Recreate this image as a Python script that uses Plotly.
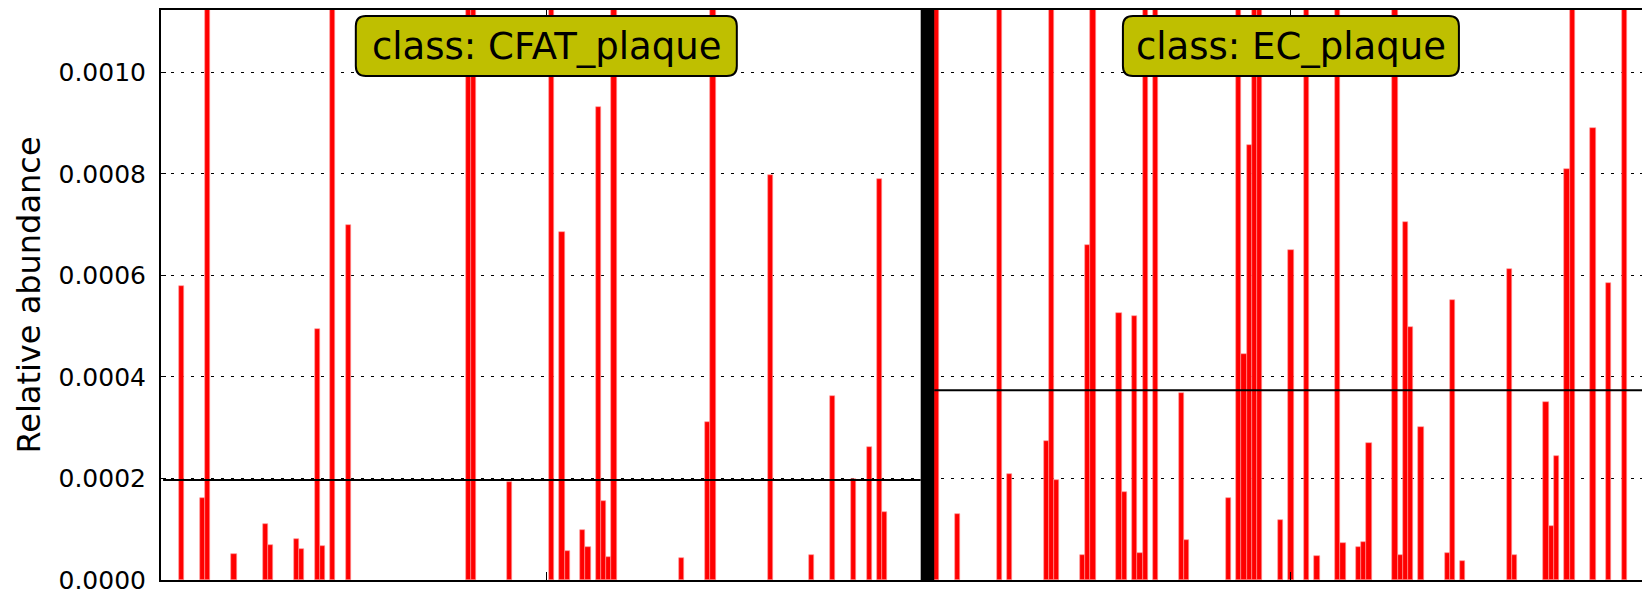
import plotly.graph_objects as go
import numpy as np

# ---- data ----
TALL = 0.003  # bars that run off the top of the axis (true height not readable)

class_names = ["CFAT_plaque", "EC_plaque"]
class_means = [0.000197, 0.000374]
class_sizes = [141, 137]

cfat_samples = [0, 4, 5, 10, 16, 17, 22, 23, 26, 27, 29, 32, 55, 56, 63, 71, 73, 74,
                77, 78, 80, 81, 82, 83, 96, 101, 102, 113, 121, 125, 129, 132, 134, 135]
cfat_values = [0.000579, 0.000162, TALL, 0.000051, 0.000111, 0.0000694, 0.0000805,
               0.0000613, 0.000495, 0.0000665, TALL, 0.000699, TALL, TALL, 0.000193,
               TALL, 0.000685, 0.0000569, 0.000099, 0.000065, 0.000931, 0.000155,
               0.0000458, TALL, 0.0000428, 0.000312, TALL, 0.000798, 0.0000487,
               0.000362, 0.000199, 0.000262, 0.00079, 0.000134]

ec_samples = [0, 4, 12, 14, 21, 22, 23, 28, 29, 30, 35, 36, 38, 39, 40, 42, 47, 48, 56,
              58, 59, 60, 61, 62, 66, 68, 71, 73, 77, 78, 81, 82, 83, 88, 89, 90, 91,
              93, 98, 99, 101, 110, 111, 117, 118, 119, 121, 122, 126, 129, 132]
ec_values = [TALL, 0.000131, TALL, 0.000209, 0.000273, TALL, 0.000198, 0.0000487,
             0.000661, TALL, 0.000526, 0.000173, 0.00052, 0.0000532, TALL, TALL,
             0.000369, 0.000079, 0.000162, TALL, 0.000446, 0.000858, TALL, TALL,
             0.000119, 0.000651, TALL, 0.0000473, TALL, 0.0000724, 0.0000643,
             0.0000746, 0.000269, TALL, 0.0000502, 0.000705, 0.000499, 0.000301,
             0.0000524, 0.000552, 0.0000377, 0.000612, 0.0000495, 0.00035, 0.000106,
             0.000244, 0.000809, TALL, 0.00089, 0.000585, TALL]

y_ticks = [0.0, 0.0002, 0.0004, 0.0006, 0.0008, 0.0010]
y_label = "Relative abundance"

# ---- layout geometry (slot units on x) ----
X_MAX = 285.0
class_offsets = [4.0, 149.0]
sep_x0, sep_x1 = 145.9, 148.5
regions = [(0.4, sep_x0), (sep_x1, X_MAX)]
Y_MAX = 0.001123
FONT = "DejaVu Sans"

fig = go.Figure()

series = [(cfat_samples, cfat_values), (ec_samples, ec_values)]
for (s, v), off in zip(series, class_offsets):
    fig.add_trace(go.Bar(
        x=np.array(s, dtype=float) + off, y=v, width=1.0,
        marker=dict(color="#ff0000", line=dict(color="#ff9a9a", width=0.6)),
        showlegend=False, hoverinfo="skip"))

# class mean lines
for (x0, x1), m in zip(regions, class_means):
    fig.add_trace(go.Scatter(x=[x0, x1], y=[m, m], mode="lines",
                             line=dict(color="black", width=2),
                             showlegend=False, hoverinfo="skip"))

# separator between classes
fig.add_shape(type="rect", xref="x", yref="paper", x0=sep_x0, x1=sep_x1, y0=0, y1=1,
              fillcolor="black", line=dict(width=0), layer="above")

# class label boxes (rounded)
centers = [off + (n - 1) / 2 for off, n in zip(class_offsets, class_sizes)]
box_w = [381, 336]
ytop, ybot, r = -6, -66, 10
for name, cx, w in zip(class_names, centers, box_w):
    hx = w / 2
    path = (f"M {-hx + r},{ytop} L {hx - r},{ytop} Q {hx},{ytop} {hx},{ytop - r} "
            f"L {hx},{ybot + r} Q {hx},{ybot} {hx - r},{ybot} "
            f"L {-hx + r},{ybot} Q {-hx},{ybot} {-hx},{ybot + r} "
            f"L {-hx},{ytop - r} Q {-hx},{ytop} {-hx + r},{ytop} Z")
    fig.add_shape(type="path", xref="x", yref="paper", xsizemode="pixel",
                  ysizemode="pixel", xanchor=cx, yanchor=1, path=path,
                  fillcolor="#bfbf00", line=dict(color="black", width=2), layer="above")
    fig.add_annotation(x=cx, y=1, xref="x", yref="paper", yshift=(ytop + ybot) / 2,
                       text="class: " + name, showarrow=False, yanchor="middle",
                       xanchor="center", font=dict(family=FONT, size=37, color="black"))

fig.update_layout(
    width=1650, height=593,
    margin=dict(l=153, r=13, t=0, b=21),
    plot_bgcolor="white", paper_bgcolor="white",
    bargap=0, barmode="overlay",
    font=dict(family=FONT, color="black"),
)
fig.update_xaxes(range=[0, X_MAX], showgrid=False, zeroline=False,
                 showline=True, linecolor="black", linewidth=2, mirror="ticks",
                 ticks="inside", ticklen=8, tickcolor="black",
                 tickvals=centers, showticklabels=False)
fig.update_yaxes(range=[0, Y_MAX], tickvals=y_ticks,
                 ticktext=[f"{t:.4f}" for t in y_ticks],
                 showgrid=True, gridcolor="black", gridwidth=1, griddash="3px,7px",
                 zeroline=False, showline=True, linecolor="black", linewidth=2,
                 mirror="ticks", ticks="inside", ticklen=5, tickcolor="black",
                 ticklabelstandoff=8,
                 tickfont=dict(family=FONT, size=25, color="black"),
                 title=dict(text=y_label, font=dict(family=FONT, size=32, color="black"),
                            standoff=8))

fig.write_html("out.html")
